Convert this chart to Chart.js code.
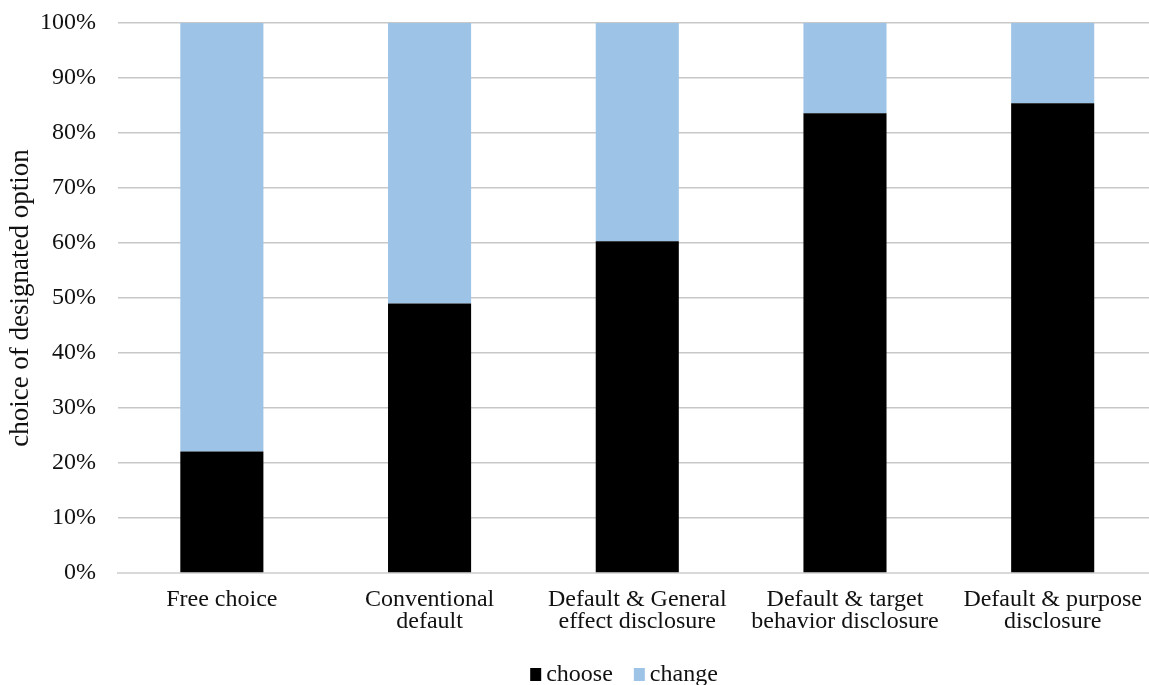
<!DOCTYPE html>
<html>
<head>
<meta charset="utf-8">
<script src="https://cdn.jsdelivr.net/npm/chart.js@4/dist/chart.umd.min.js"></script>
<style>
  html, body { margin: 0; padding: 0; background: #fff; overflow: hidden; }
  #wrap { width: 1149px; height: 685px; overflow: hidden; position: relative; }
  canvas { display: block; }
</style>
</head>
<body>
<div id="wrap"><canvas id="c" width="1158" height="685"></canvas></div>
<script>
// Experimental conditions (two-line labels are arrays)
const categories = [
  'Free choice',
  ['Conventional', 'default'],
  ['Default & General', 'effect disclosure'],
  ['Default & target', 'behavior disclosure'],
  ['Default & purpose', 'disclosure']
];
// Share of participants (%) keeping vs. changing the designated option
const chooseValues = [22.1, 49.0, 60.3, 83.6, 85.4];
const changeValues = [77.9, 51.0, 39.7, 16.4, 14.6];
const yTicks = [0, 10, 20, 30, 40, 50, 60, 70, 80, 90, 100];

const serif = "'Liberation Serif', 'Times New Roman', serif";
const ink = '#111111';

// Compact key under the axis: small square swatch, tight gap, then the series name
const seriesKey = {
  id: 'seriesKey',
  afterDraw(chart, args, opts) {
    const ctx = chart.ctx;
    ctx.save();
    ctx.font = opts.size + 'px ' + serif;
    const items = chart.data.datasets.map(ds => ({
      text: ds.label,
      color: ds.backgroundColor,
      w: ctx.measureText(ds.label).width
    }));
    const total = items.reduce((s, it) => s + opts.box + opts.gap + it.w, 0)
      + opts.sep * (items.length - 1);
    let x = opts.centerX - total / 2;
    const base = chart.height - opts.bottom;
    items.forEach(it => {
      ctx.fillStyle = it.color;
      ctx.fillRect(x, base - opts.boxH, opts.box, opts.boxH);
      x += opts.box + opts.gap;
      ctx.fillStyle = ink;
      ctx.textBaseline = 'alphabetic';
      ctx.textAlign = 'left';
      ctx.fillText(it.text, x, base);
      x += it.w + opts.sep;
    });
    ctx.restore();
  }
};

new Chart(document.getElementById('c'), {
  type: 'bar',
  data: {
    labels: categories,
    datasets: [
      { label: 'choose', data: chooseValues, backgroundColor: '#000000',
        barPercentage: 0.8, categoryPercentage: 0.5 },
      { label: 'change', data: changeValues, backgroundColor: '#9dc3e6',
        barPercentage: 0.8, categoryPercentage: 0.5 }
    ]
  },
  plugins: [seriesKey],
  options: {
    responsive: false,
    animation: false,
    devicePixelRatio: 1,
    layout: { autoPadding: false, padding: { top: 23, left: 0, right: 0, bottom: 43 } },
    plugins: {
      legend: { display: false },
      tooltip: { enabled: false },
      seriesKey: { size: 24, box: 11, boxH: 13, gap: 5, sep: 21, centerX: 624, bottom: 4 }
    },
    scales: {
      x: {
        stacked: true,
        grid: { display: false, drawTicks: false },
        border: { display: true, color: '#d9d9d9', width: 2 },
        ticks: {
          font: { family: serif, size: 24, lineHeight: 0.92 },
          color: ink,
          padding: 16,
          maxRotation: 0,
          autoSkip: false
        },
        afterFit(scale) { scale.height = 69; }
      },
      y: {
        stacked: true,
        min: 0,
        max: 100,
        afterBuildTicks(scale) { scale.ticks = yTicks.map(v => ({ value: v })); },
        grid: { color: '#c8c8c8', lineWidth: 1.5, drawTicks: false },
        border: { display: false },
        ticks: {
          font: { family: serif, size: 24 },
          color: ink,
          padding: 22,
          callback: v => v + '%'
        },
        title: {
          display: true,
          text: 'choice of designated option',
          font: { family: serif, size: 27 },
          color: ink,
          padding: { top: 5, bottom: 0 }
        },
        afterFit(scale) {
          scale.width = 118;
          // the top label fits inside the layout padding, no extra room needed
          scale.paddingTop = 0;
          scale.paddingBottom = 0;
        }
      }
    }
  }
});
</script>
</body>
</html>
